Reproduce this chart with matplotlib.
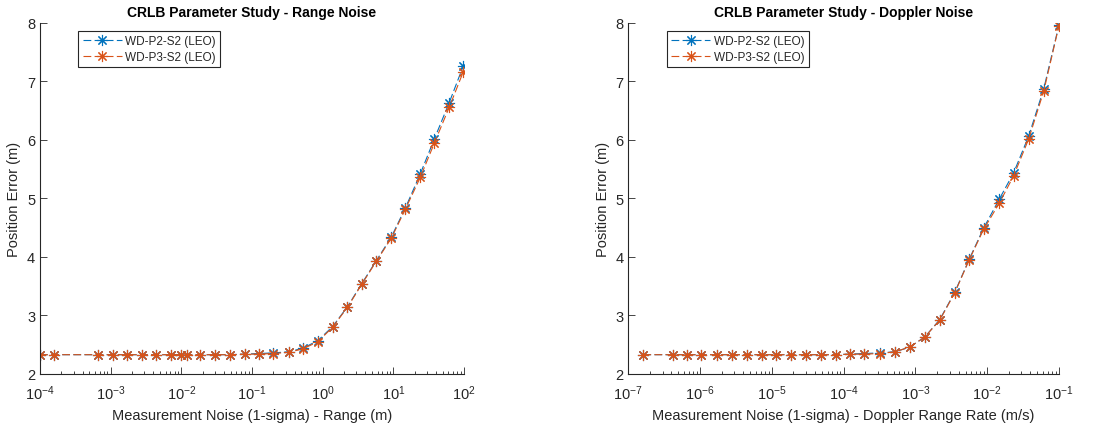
import numpy as np
import matplotlib
matplotlib.use('Agg')
import matplotlib.pyplot as plt
from matplotlib.ticker import LogLocator, NullFormatter

plt.rcParams['font.family'] = ['Liberation Sans', 'DejaVu Sans']

# range noise study (log10 of sigma, m)
range_log = [-4.0, -3.80, -3.18, -2.97, -2.77, -2.56, -2.36, -2.15, -2.00, -1.92,
             -1.74, -1.52, -1.31, -1.10, -0.90, -0.70, -0.48, -0.28, -0.07,
             0.14, 0.35, 0.55, 0.76, 0.97, 1.17, 1.38, 1.58, 1.79, 1.99]
range_p2 = [2.33, 2.33, 2.33, 2.33, 2.33, 2.33, 2.33, 2.33, 2.33, 2.33,
            2.33, 2.33, 2.33, 2.34, 2.35, 2.36, 2.38, 2.44, 2.57,
            2.81, 3.15, 3.54, 3.94, 4.34, 4.84, 5.42, 6.02, 6.64, 7.27]
range_p3 = [2.33, 2.33, 2.33, 2.33, 2.33, 2.33, 2.33, 2.33, 2.33, 2.33,
            2.33, 2.33, 2.33, 2.34, 2.34, 2.35, 2.37, 2.43, 2.55,
            2.80, 3.14, 3.53, 3.93, 4.32, 4.82, 5.36, 5.95, 6.56, 7.17]

# doppler noise study (log10 of sigma, m/s)
dop_log = [-6.79, -6.38, -6.18, -5.98, -5.76, -5.56, -5.35, -5.14, -4.94, -4.73,
           -4.52, -4.32, -4.11, -3.91, -3.71, -3.49, -3.28, -3.08, -2.87, -2.66,
           -2.45, -2.25, -2.05, -1.83, -1.63, -1.42, -1.21, -1.00]
dop_p2 = [2.33, 2.33, 2.33, 2.33, 2.33, 2.33, 2.33, 2.33, 2.33, 2.33,
          2.33, 2.33, 2.33, 2.34, 2.35, 2.36, 2.38, 2.46, 2.63, 2.93,
          3.40, 3.96, 4.49, 4.99, 5.44, 6.07, 6.88, 7.96]
dop_p3 = [2.33, 2.33, 2.33, 2.33, 2.33, 2.33, 2.33, 2.33, 2.33, 2.33,
          2.33, 2.33, 2.33, 2.34, 2.34, 2.35, 2.38, 2.46, 2.63, 2.92,
          3.39, 3.95, 4.47, 4.92, 5.39, 6.02, 6.84, 7.95]

labels = ['WD-P2-S2 (LEO)', 'WD-P3-S2 (LEO)']
blue = '#0072BD'
orange = '#D95319'
gray = '#262626'

range_x = np.power(10.0, range_log)
dop_x = np.power(10.0, dop_log)

fig = plt.figure(figsize=(10.93, 4.27), dpi=100)
ax1 = fig.add_axes([0.0366, 0.1218, 0.388, 0.822])
ax2 = fig.add_axes([0.5748, 0.1218, 0.394, 0.822])


def style(ax, xlim, xlabel, title):
    ax.set_xscale('log')
    ax.set_xlim(*xlim)
    ax.set_ylim(2, 8)
    ax.set_yticks(range(2, 9))
    ax.xaxis.set_major_locator(LogLocator(base=10, numticks=20))
    ax.xaxis.set_minor_locator(LogLocator(base=10, subs=np.arange(2, 10), numticks=100))
    ax.xaxis.set_minor_formatter(NullFormatter())
    for s in ['top', 'right']:
        ax.spines[s].set_visible(False)
    for s in ['left', 'bottom']:
        ax.spines[s].set_color(gray)
        ax.spines[s].set_linewidth(0.8)
    ax.tick_params(which='both', direction='in', colors=gray, labelsize=10.5, width=0.6)
    ax.tick_params(which='major', length=5)
    ax.tick_params(which='minor', length=2.5)
    ax.tick_params(axis='x', pad=7)
    ax.set_xlabel(xlabel, fontsize=10.5, color=gray, labelpad=4)
    ax.set_ylabel('Position Error (m)', fontsize=10.5, color=gray, labelpad=4)
    ax.set_title(title, fontsize=10, fontweight='bold', color='black', pad=5)
    leg = ax.legend(loc='upper left', bbox_to_anchor=(0.085, 0.985), fontsize=8.5,
                    fancybox=False, edgecolor=gray, framealpha=1, handlelength=3.3,
                    borderpad=0.35, labelspacing=0.35, borderaxespad=0.2,
                    handletextpad=0.3)
    leg.get_frame().set_linewidth(0.8)
    for t in leg.get_texts():
        t.set_color(gray)


kw = dict(linestyle='--', marker=(8, 2, 0), markersize=8, markeredgewidth=0.8,
          linewidth=0.8, dashes=(7, 3))
ax1.plot(range_x, range_p2, color=blue, label=labels[0], **kw)
ax1.plot(range_x, range_p3, color=orange, label=labels[1], **kw)
style(ax1, (1e-4, 1e2), 'Measurement Noise (1-sigma) - Range (m)',
      'CRLB Parameter Study - Range Noise')

ax2.plot(dop_x, dop_p2, color=blue, label=labels[0], **kw)
ax2.plot(dop_x, dop_p3, color=orange, label=labels[1], **kw)
style(ax2, (1e-7, 1e-1), 'Measurement Noise (1-sigma) - Doppler Range Rate (m/s)',
      'CRLB Parameter Study - Doppler Noise')

fig.savefig('out.png', dpi=100, facecolor='white')
